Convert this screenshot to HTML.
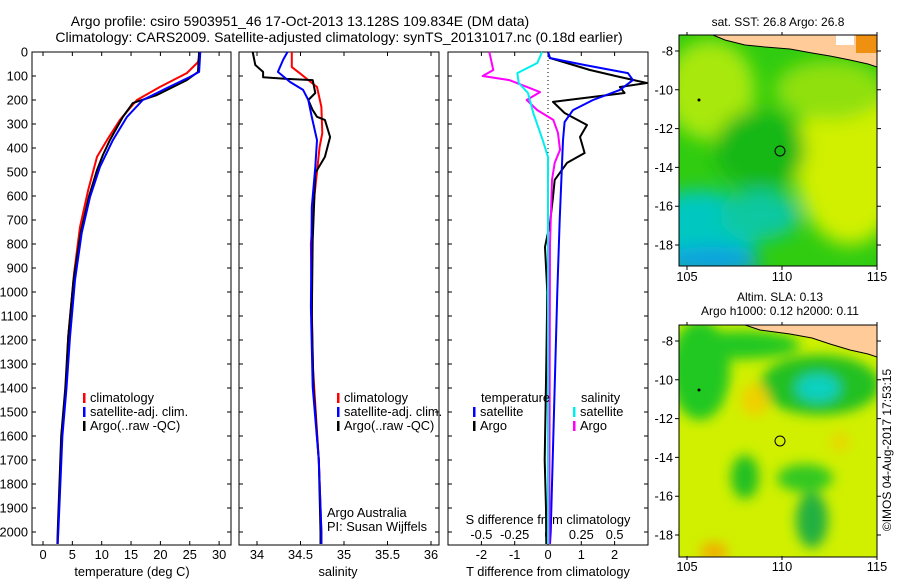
<!DOCTYPE html>
<html><head><meta charset="utf-8"><style>
body{margin:0;background:#fff;}
svg{display:block;font-family:"Liberation Sans",sans-serif;}
text{font-size:12.8px;fill:#000;}
</style></head><body>
<svg id="c" width="900" height="580" viewBox="0 0 900 580">
<defs>
<filter id="bl" x="-20%" y="-20%" width="140%" height="140%"><feGaussianBlur stdDeviation="9"/></filter>
<filter id="bl2" x="-20%" y="-20%" width="140%" height="140%"><feGaussianBlur stdDeviation="6"/></filter>
<clipPath id="m1"><rect x="679" y="35" width="198" height="231"/></clipPath>
<clipPath id="m2"><rect x="679" y="325" width="198" height="232"/></clipPath>
</defs>
<text x="300" y="26" text-anchor="middle" style="font-size:14px">Argo profile: csiro 5903951_46 17-Oct-2013 13.128S 109.834E (DM data)</text>
<text x="339" y="42" text-anchor="middle" style="font-size:14px">Climatology: CARS2009. Satellite-adjusted climatology: synTS_20131017.nc (0.18d earlier)</text>

<g>
<text x="778" y="26" text-anchor="middle" style="font-size:12px">sat. SST: 26.8 Argo: 26.8</text>
<g clip-path="url(#m1)">
<rect x="679" y="35" width="198" height="231" fill="#30cc10"/>
<g filter="url(#bl)">
<ellipse cx="710" cy="90" rx="45" ry="50" fill="#a8e810"/>
<ellipse cx="850" cy="160" rx="55" ry="85" fill="#d0f000"/>
<ellipse cx="830" cy="90" rx="55" ry="30" fill="#90e010"/>
<ellipse cx="700" cy="230" rx="60" ry="40" fill="#00c8c0"/>
<ellipse cx="760" cy="215" rx="40" ry="25" fill="#10c8a0"/>
<ellipse cx="710" cy="262" rx="50" ry="15" fill="#10a0e0"/>
<ellipse cx="760" cy="150" rx="45" ry="40" fill="#18b818"/>
</g>
<polygon points="713,35 725,40 745,45 765,47 790,49 812,53 830,56 850,60 868,64 877,67 877,35" fill="#ffcc99" stroke="#000" stroke-width="1"/>
<rect x="836" y="35" width="18" height="10" fill="#fff"/>
<rect x="856" y="35" width="21" height="18" fill="#f09010"/>
<circle cx="780" cy="151" r="5" fill="none" stroke="#000" stroke-width="1"/>
<circle cx="699" cy="100" r="1.5" fill="#000"/>
</g>
<rect x="679" y="35" width="198" height="231" fill="none" stroke="#000"/>
</g>
<g>
<text x="780" y="301" text-anchor="middle" style="font-size:12px">Altim. SLA: 0.13</text>
<text x="780" y="315" text-anchor="middle" style="font-size:12px">Argo h1000: 0.12 h2000: 0.11</text>
<g clip-path="url(#m2)">
<rect x="679" y="325" width="198" height="232" fill="#d0f000"/>
<g filter="url(#bl2)">
<ellipse cx="700" cy="370" rx="30" ry="50" fill="#20c820"/>
<ellipse cx="820" cy="385" rx="60" ry="30" fill="#20c020"/>
<ellipse cx="818" cy="388" rx="22" ry="14" fill="#10d0c0"/>
<ellipse cx="740" cy="345" rx="60" ry="14" fill="#20c820"/>
<ellipse cx="745" cy="477" rx="14" ry="22" fill="#20c020"/>
<ellipse cx="805" cy="478" rx="28" ry="14" fill="#30c820"/>
<ellipse cx="812" cy="520" rx="16" ry="28" fill="#20b040"/>
<ellipse cx="755" cy="400" rx="14" ry="16" fill="#f0d000"/>
<ellipse cx="714" cy="552" rx="14" ry="10" fill="#f0b000"/>
<ellipse cx="840" cy="442" rx="10" ry="10" fill="#e8d800"/>
</g>
<polygon points="745,325 760,330 790,334 812,338 830,344 850,350 868,354 877,357 877,325" fill="#ffcc99" stroke="#000" stroke-width="1"/>
<circle cx="780" cy="441" r="5" fill="none" stroke="#000" stroke-width="1"/>
<circle cx="699" cy="390" r="1.5" fill="#000"/>
</g>
<rect x="679" y="325" width="198" height="232" fill="none" stroke="#000"/>
</g>
<text transform="translate(891,450) rotate(-90)" text-anchor="middle" style="font-size:12px">©IMOS 04-Aug-2017 17:53:15</text>
<g id="lay"></g>
</svg>
<script>
const depthTicks=[0,100,200,300,400,500,600,700,800,900,1000,1100,1200,1300,1400,1500,1600,1700,1800,1900,2000];
const tempTicks=[0,5,10,15,20,25,30];
const climTD=[0,42,88,146,200,283,367,437,575,729,921,1188,1400,1600,2000,2050];
const climT=[26.8,26.4,24.5,19.9,16,13.1,10.9,9.2,7.7,6.3,5.3,4.3,3.9,3.2,2.55,2.5];
const satTD=[0,83,104,150,200,271,367,479,604,754,950,1188,1400,1600,2000,2050];
const satT=[26.8,26.6,25,21.1,17,14.3,11.9,9.7,8,6.6,5.45,4.6,4.0,3.3,2.6,2.5];
const argoTD=[0,83,117,179,213,271,367,429,492,604,754,950,1188,1400,1600,2000,2050];
const argoT=[26.6,26.4,24.5,19.4,15.3,13.6,11.4,10.2,9.2,7.8,6.4,5.2,4.3,3.8,3.1,2.5,2.45];
const salTicks=[34,34.5,35,35.5,36];
const salTickLabels=["34","34.5","35","35.5","36"];
const climSD=[0,63,88,146,229,338,396,600,800,1300,1700,2000,2050];
const climS=[34.40,34.40,34.49,34.69,34.74,34.75,34.72,34.66,34.62,34.64,34.71,34.74,34.74];
const satSD=[0,33,83,125,158,200,271,367,479,646,1063,1396,1700,2000,2050];
const satS=[34.35,34.30,34.24,34.38,34.53,34.59,34.63,34.69,34.67,34.63,34.62,34.64,34.71,34.74,34.74];
const argoSD=[0,54,83,105,112,117,171,200,242,270,283,354,437,504,783,1100,1400,1700,2000,2050];
const argoS=[33.95,33.98,34.07,34.07,34.34,34.64,34.67,34.59,34.64,34.69,34.78,34.84,34.78,34.67,34.64,34.63,34.65,34.71,34.73,34.73];
const tdTicks=[-2,-1,0,1,2];
const sdTicks=[-0.5,-0.25,0,0.25,0.5];
const sdTickLabels=["-0.5","-0.25","0","0.25","0.5"];
const satDTD=[0,25,54,88,117,158,200,242,292,367,700,1000,1500,2000,2050];
const satDT=[0,0.05,1.1,2.4,2.55,2.16,1.35,0.75,0.5,0.45,0.35,0.28,0.18,0.08,0.06];
const argoDTD=[0,25,75,104,129,146,171,208,254,304,354,421,462,533,604,713,812,1000,1300,1700,1900,2050];
const argoDT=[0,0.06,1.26,2.16,2.97,2.16,2.3,0.15,0.5,1.17,0.96,1.1,0.57,0.2,0.15,0.06,-0.09,-0.02,-0.05,-0.1,-0.06,-0.05];
const satDSD=[0,46,88,129,171,254,367,437,1000,2050];
const satDS=[-0.045,-0.08,-0.23,-0.22,-0.15,-0.11,-0.04,0,0,0];
const argoDSD=[0,75,100,117,167,200,242,283,338,408,462,533,800,2050];
const argoDS=[-0.44,-0.41,-0.49,-0.29,-0.06,-0.16,-0.08,0.04,0.075,0.09,0.05,0.03,0.015,0.01];

const NS='http://www.w3.org/2000/svg';
const lay=document.getElementById('lay');
function mk(t,a,p){const e=document.createElementNS(NS,t);for(const k in a)e.setAttribute(k,a[k]);(p||lay).appendChild(e);return e;}
const Y0=52,Y1=545;
const yD=d=>Y0+d*0.24;
const P1={l:32,r:231,x:v=>43+v*5.87};
const P2={l:239,r:439,x:v=>257+(v-34)*87};
const P3={l:448,r:648,x:v=>548+v*33.3};
const xS=v=>548+v*133.3;

function panel(P,name){
  const r=mk('rect',{x:P.l,y:Y0,width:P.r-P.l,height:Y1-Y0,fill:'none',stroke:'#000','stroke-width':1});
  
  
  depthTicks.forEach(d=>{
    const t=mk('path',{d:`M${P.l},${yD(d)}h4M${P.r},${yD(d)}h-4`,stroke:'#000'});
    
    
  });
}
panel(P1,'temperature-panel');panel(P2,'salinity-panel');panel(P3,'difference-panel');
depthTicks.forEach(d=>{
  const t=mk('text',{x:28,y:yD(d)+4.5,'text-anchor':'end'});t.textContent=d;
  
  
});
function xticks(P,vals,labels,fx,ly){
  vals.forEach((v,i)=>{
    const x=fx(v);
    const t=mk('path',{d:`M${x},${Y0}v4M${x},${Y1}v-4`,stroke:'#000'});
    
    
    const l=mk('text',{x:x,y:ly,'text-anchor':'middle'});l.textContent=labels[i];
    
    
  });
}
xticks(P1,tempTicks,tempTicks.map(String),P1.x,559);
xticks(P2,salTicks,salTickLabels,P2.x,559);
xticks(P3,tdTicks,tdTicks.map(String),P3.x,559);
sdTicks.forEach((v,i)=>{
  const l=mk('text',{x:xS(v),y:539,'text-anchor':'middle'});l.textContent=sdTickLabels[i];
  
  
});
function lbl(x,y,s,nm,anchor){const t=mk('text',{x:x,y:y,'text-anchor':anchor||'start'});t.textContent=s;
  
  return t;}
lbl(132,576,'temperature (deg C)','temperature-axis-title','middle');
lbl(338,576,'salinity','salinity-axis-title','middle');
lbl(548,576,'T difference from climatology','t-diff-axis-title','middle');
lbl(548,524,'S difference from climatology','s-diff-axis-title','middle');
lbl(327,517,'Argo Australia','credit-institution');
lbl(327,531,'PI: Susan Wijffels','credit-pi');
const z=mk('line',{x1:548,y1:Y0,x2:548,y2:400,stroke:'#000','stroke-dasharray':'1,3'});



function series(fx,vals,depths,col,w,name){
  const d=vals.map((v,i)=>(i?'L':'M')+fx(v).toFixed(1)+','+yD(depths[i]).toFixed(1)).join('');
  const p=mk('path',{d:d,fill:'none',stroke:col,'stroke-width':w,'stroke-linejoin':'round'});
  
  
}
series(P1.x,climT,climTD,'#f00',2,'temp-climatology-line');
series(P1.x,argoT,argoTD,'#000',2,'temp-argo-line');
series(P1.x,satT,satTD,'#00f',2,'temp-satellite-line');
series(P2.x,climS,climSD,'#f00',2,'sal-climatology-line');
series(P2.x,argoS,argoSD,'#000',2,'sal-argo-line');
series(P2.x,satS,satSD,'#00f',2,'sal-satellite-line');
series(P3.x,argoDT,argoDTD,'#000',2,'tdiff-argo-line');
series(P3.x,satDT,satDTD,'#00f',2,'tdiff-satellite-line');
series(xS,argoDS,argoDSD,'#f0f',2,'sdiff-argo-line');
series(xS,satDS,satDSD,'#0ee',2,'sdiff-satellite-line');

function leg(x,y,col,s,nm){
  const m=mk('rect',{x:x,y:y-9,width:2.5,height:10,fill:col});
  
  
  lbl(x+7,y,s,nm);
}
leg(83,402,'#f00','climatology','legend-temp-climatology');
leg(83,416,'#00f','satellite-adj. clim.','legend-temp-satellite');
leg(83,430,'#000','Argo(..raw -QC)','legend-temp-argo');
leg(337,402,'#f00','climatology','legend-sal-climatology');
leg(337,416,'#00f','satellite-adj. clim.','legend-sal-satellite');
leg(337,430,'#000','Argo(..raw -QC)','legend-sal-argo');
lbl(481,402,'temperature','legend-temperature-heading');
leg(473,416,'#00f','satellite','legend-tdiff-satellite');
leg(473,430,'#000','Argo','legend-tdiff-argo');
lbl(581,402,'salinity','legend-salinity-heading');
leg(573,416,'#0ee','satellite','legend-sdiff-satellite');
leg(573,430,'#f0f','Argo','legend-sdiff-argo');

const latTicks=[-8,-10,-12,-14,-16,-18];
const lonTicks=[105,110,115];
function mapAxes(top,name){
  const ly=v=>top+16+(-8-v)*19.4;
  latTicks.forEach(v=>{
    const t=mk('path',{d:`M679,${ly(v)}h-4M877,${ly(v)}h4`,stroke:'#000'});
    
    
    lbl(673,ly(v)+4.5,String(v),name+'-lat-label','end');
  });
  const bot=top+231;
  lonTicks.forEach(v=>{
    const x=687+(v-105)*19;
    const t=mk('path',{d:`M${x},${bot}v4M${x},${top}v-3`,stroke:'#000'});
    
    
    lbl(x,bot+15,String(v),name+'-lon-label','middle');
  });
}
mapAxes(35,'sst-map');mapAxes(325,'sla-map');
</script>
</body></html>
